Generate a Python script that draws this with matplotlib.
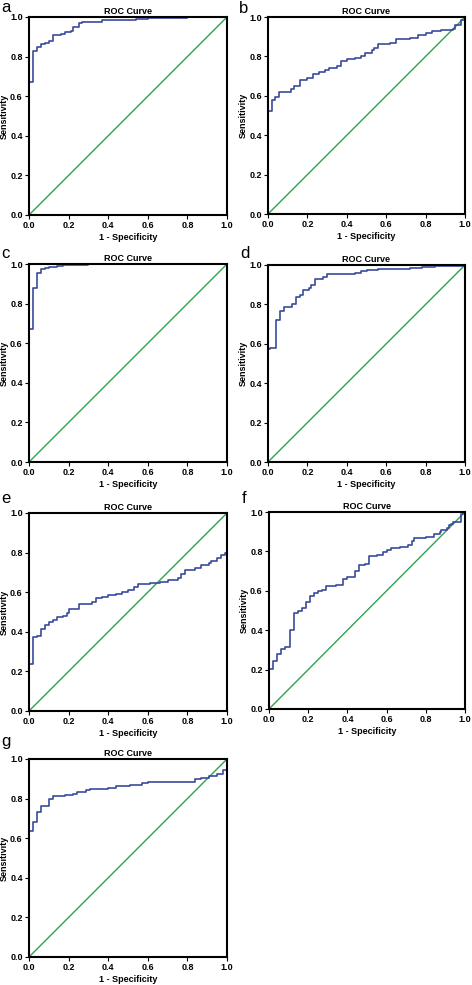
import matplotlib
matplotlib.use("Agg")
import matplotlib.pyplot as plt

plt.rcParams['font.family'] = ['Liberation Sans', 'DejaVu Sans']

# ROC step data: fpr breakpoints and tpr levels (steps-post)
a_fpr = [0, 0, 0.02, 0.04, 0.06, 0.08, 0.10, 0.12, 0.16, 0.18, 0.21, 0.22, 0.25, 0.27, 0.37, 0.54, 0.60, 0.80, 1.0]
a_tpr = [0, 0.67, 0.83, 0.85, 0.865, 0.87, 0.88, 0.91, 0.915, 0.925, 0.93, 0.95, 0.97, 0.975, 0.985, 0.99, 0.995, 1.0, 1.0]

b_fpr = [0, 0, 0.02, 0.035, 0.055, 0.115, 0.13, 0.16, 0.20, 0.23, 0.26, 0.29, 0.31, 0.35, 0.37, 0.40, 0.44, 0.47, 0.49, 0.53, 0.54, 0.56, 0.62, 0.65, 0.72, 0.76, 0.80, 0.83, 0.88, 0.94, 0.95, 0.98, 1.0]
b_tpr = [0, 0.525, 0.58, 0.592, 0.62, 0.632, 0.65, 0.68, 0.69, 0.71, 0.72, 0.73, 0.74, 0.75, 0.775, 0.785, 0.79, 0.80, 0.815, 0.83, 0.845, 0.865, 0.87, 0.89, 0.895, 0.91, 0.92, 0.93, 0.935, 0.94, 0.96, 0.985, 1.0]

c_fpr = [0, 0, 0.02, 0.04, 0.06, 0.08, 0.10, 0.14, 0.17, 0.30, 0.60, 1.0]
c_tpr = [0, 0.67, 0.88, 0.955, 0.975, 0.98, 0.985, 0.99, 0.995, 0.998, 1.0, 1.0]

d_fpr = [0, 0, 0.01, 0.04, 0.06, 0.08, 0.12, 0.14, 0.16, 0.18, 0.21, 0.22, 0.24, 0.28, 0.30, 0.44, 0.47, 0.50, 0.56, 0.72, 0.78, 0.85, 1.0]
d_tpr = [0, 0.575, 0.58, 0.72, 0.765, 0.785, 0.80, 0.84, 0.85, 0.875, 0.885, 0.90, 0.93, 0.94, 0.955, 0.96, 0.97, 0.975, 0.98, 0.985, 0.99, 0.995, 1.0]

e_fpr = [0, 0, 0.02, 0.04, 0.06, 0.08, 0.10, 0.12, 0.14, 0.17, 0.19, 0.20, 0.25, 0.32, 0.34, 0.37, 0.40, 0.44, 0.47, 0.50, 0.53, 0.55, 0.61, 0.66, 0.70, 0.75, 0.77, 0.79, 0.84, 0.87, 0.91, 0.92, 0.95, 0.97, 0.99, 1.0]
e_tpr = [0, 0.235, 0.375, 0.38, 0.415, 0.435, 0.45, 0.46, 0.475, 0.48, 0.495, 0.515, 0.54, 0.55, 0.57, 0.575, 0.585, 0.59, 0.60, 0.61, 0.625, 0.64, 0.645, 0.65, 0.66, 0.67, 0.69, 0.71, 0.72, 0.735, 0.745, 0.76, 0.775, 0.79, 0.80, 0.80]

f_fpr = [0, 0, 0.02, 0.04, 0.06, 0.08, 0.105, 0.125, 0.15, 0.17, 0.19, 0.21, 0.23, 0.25, 0.27, 0.29, 0.34, 0.38, 0.40, 0.44, 0.46, 0.49, 0.51, 0.55, 0.58, 0.60, 0.62, 0.67, 0.71, 0.73, 0.74, 0.80, 0.84, 0.87, 0.88, 0.91, 0.92, 0.93, 0.94, 0.98, 0.99]
f_tpr = [0, 0.205, 0.245, 0.28, 0.305, 0.315, 0.40, 0.485, 0.495, 0.515, 0.545, 0.575, 0.59, 0.60, 0.605, 0.625, 0.63, 0.66, 0.67, 0.70, 0.73, 0.735, 0.775, 0.78, 0.795, 0.805, 0.815, 0.82, 0.83, 0.855, 0.87, 0.875, 0.89, 0.90, 0.91, 0.92, 0.935, 0.94, 0.95, 0.99, 1.0]

g_fpr = [0, 0, 0.02, 0.04, 0.06, 0.10, 0.12, 0.18, 0.22, 0.24, 0.29, 0.31, 0.40, 0.44, 0.51, 0.57, 0.60, 0.84, 0.87, 0.91, 0.95, 0.98, 1.0]
g_tpr = [0, 0.635, 0.68, 0.73, 0.765, 0.80, 0.815, 0.82, 0.825, 0.835, 0.845, 0.85, 0.855, 0.865, 0.87, 0.88, 0.885, 0.90, 0.905, 0.915, 0.925, 0.945, 0.95]

panel_labels = ['a', 'b', 'c', 'd', 'e', 'f', 'g']
ticks = [0.0, 0.2, 0.4, 0.6, 0.8, 1.0]
tick_labels = ['0.0', '0.2', '0.4', '0.6', '0.8', '1.0']
title_text = 'ROC Curve'
xlabel_text = '1 - Specificity'
ylabel_text = 'Sensitivity'

curves = [(a_fpr, a_tpr), (b_fpr, b_tpr), (c_fpr, c_tpr), (d_fpr, d_tpr),
          (e_fpr, e_tpr), (f_fpr, f_tpr), (g_fpr, g_tpr)]

W, H = 472, 985
# axes boxes in pixels: left, right, top, bottom
boxes = [(29, 227, 17, 215), (268, 465, 17, 214),
         (29, 227, 264, 462), (268, 465, 265, 462),
         (29, 227, 513, 711), (269, 465, 512, 709),
         (29, 227, 759, 957)]
# panel label anchors in pixels: left x, baseline y
label_pos = [(1, 12), (239, 13), (1, 258), (240, 258), (1, 503), (242, 503), (1, 746)]

fig = plt.figure(figsize=(W / 100, H / 100), dpi=100)
fig.patch.set_facecolor('white')

blue = '#3A4A9C'
green = '#2FA44A'

for (l, r, t, b), (fx, ty), lab, (lx, ly) in zip(boxes, curves, panel_labels, label_pos):
    ax = fig.add_axes([l / W, 1 - b / H, (r - l) / W, (b - t) / H])
    ax.plot([0, 1], [0, 1], color=green, lw=1.0, zorder=2)
    ax.plot(fx, ty, color=blue, lw=1.2, drawstyle='steps-post', zorder=2.2)
    ax.set_xlim(0, 1)
    ax.set_ylim(0, 1)
    ax.set_xticks(ticks)
    ax.set_xticklabels(tick_labels)
    ax.set_yticks(ticks)
    ax.set_yticklabels(tick_labels)
    for s in ax.spines.values():
        s.set_linewidth(1.5)
        s.set_color('black')
        s.set_zorder(3)
    ax.tick_params(direction='out', length=3, width=0.8, labelsize=6.5, pad=1.5)
    for tl in ax.get_xticklabels() + ax.get_yticklabels():
        tl.set_fontweight('bold')
    ax.set_title(title_text, fontsize=6.5, fontweight='bold', pad=2)
    ax.set_xlabel(xlabel_text, fontsize=6.5, fontweight='bold', labelpad=2)
    ax.set_ylabel(ylabel_text, fontsize=6.5, fontweight='bold')
    ax.yaxis.set_label_coords(-20.5 / (r - l), 0.5)
    fig.text(lx / W, 1 - ly / H, lab, fontsize=12, ha='left', va='baseline')

fig.savefig('out.png', dpi=100, facecolor='white')
